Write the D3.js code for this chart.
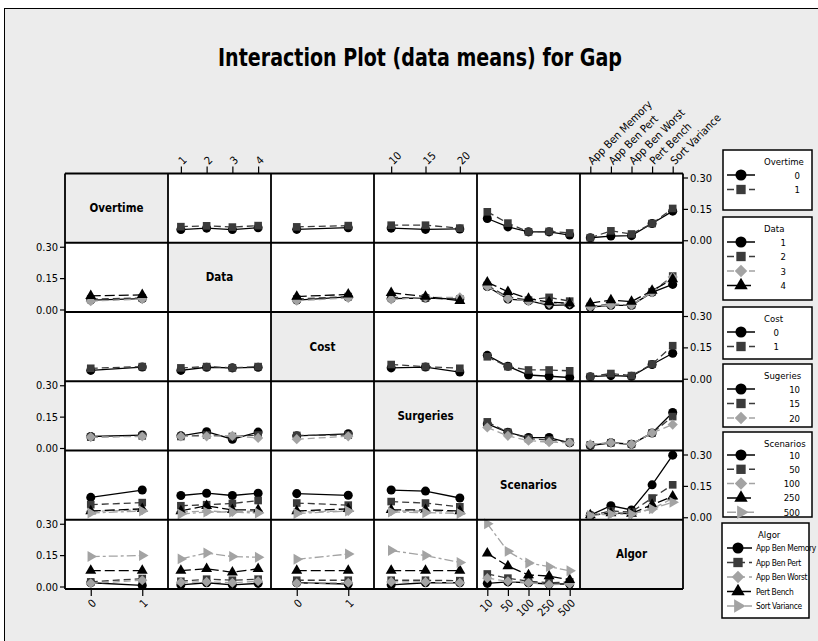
<!DOCTYPE html>
<html>
<head>
<meta charset="utf-8">
<script src="https://cdn.jsdelivr.net/npm/d3@7"></script>
<style>
  html, body { margin: 0; padding: 0; background: #ffffff; }
  svg { display: block; font-family: "DejaVu Sans Condensed", "DejaVu Sans", sans-serif; font-stretch: condensed; }
</style>
</head>
<body>
<svg id="chart" width="818" height="641"></svg>
<script>
// ---- factors and their levels ----
const factorNames = ["Overtime", "Data", "Cost", "Surgeries", "Scenarios", "Algor"];
const legendTitles = ["Overtime", "Data", "Cost", "Sugeries", "Scenarios", "Algor"];
const overtimeLevels = ["0", "1"];
const dataLevels = ["1", "2", "3", "4"];
const costLevels = ["0", "1"];
const surgeriesLevels = ["10", "15", "20"];
const scenariosLevels = ["10", "50", "100", "250", "500"];
const algorLevels = ["App Ben Memory", "App Ben Pert", "App Ben Worst", "Pert Bench", "Sort Variance"];
const yTicks = [0.00, 0.15, 0.30];

// ---- mean Gap for each pair: one row per level of the line factor ----
const overtimeByData = [[0.051, 0.058, 0.051, 0.060], [0.065, 0.069, 0.063, 0.070]];
const overtimeByCost = [[0.052, 0.060], [0.064, 0.070]];
const overtimeBySurgeries = [[0.058, 0.052, 0.054], [0.072, 0.072, 0.058]];
const overtimeByScenarios = [[0.104, 0.064, 0.040, 0.040, 0.025], [0.136, 0.082, 0.040, 0.042, 0.035]];
const overtimeByAlgor = [[0.012, 0.020, 0.022, 0.080, 0.139], [0.012, 0.045, 0.030, 0.080, 0.152]];

const dataByOvertime = [[0.045, 0.052], [0.050, 0.055], [0.040, 0.050], [0.065, 0.070]];
const dataByCost = [[0.045, 0.060], [0.050, 0.062], [0.042, 0.055], [0.062, 0.072]];
const dataBySurgeries = [[0.052, 0.055, 0.050], [0.058, 0.055, 0.050], [0.048, 0.058, 0.058], [0.080, 0.062, 0.042]];
const dataByScenarios = [[0.110, 0.050, 0.042, 0.020, 0.022], [0.115, 0.060, 0.045, 0.058, 0.040],
                         [0.110, 0.052, 0.040, 0.028, 0.030], [0.130, 0.085, 0.052, 0.035, 0.030]];
const dataByAlgor = [[0.012, 0.020, 0.020, 0.082, 0.120], [0.015, 0.025, 0.022, 0.085, 0.160],
                     [0.012, 0.022, 0.022, 0.082, 0.155], [0.030, 0.045, 0.038, 0.090, 0.145]];

const costByOvertime = [[0.040, 0.056], [0.050, 0.058]];
const costByData = [[0.040, 0.055, 0.052, 0.055], [0.052, 0.058, 0.052, 0.058]];
const costBySurgeries = [[0.052, 0.056, 0.032], [0.068, 0.058, 0.050]];
const costByScenarios = [[0.112, 0.060, 0.018, 0.012, 0.006], [0.105, 0.058, 0.042, 0.042, 0.038]];
const costByAlgor = [[0.010, 0.015, 0.012, 0.068, 0.122], [0.010, 0.025, 0.015, 0.070, 0.158]];

const surgeriesByOvertime = [[0.055, 0.062], [0.052, 0.058], [0.052, 0.055]];
const surgeriesByData = [[0.058, 0.078, 0.042, 0.076], [0.055, 0.062, 0.055, 0.062], [0.055, 0.056, 0.058, 0.048]];
const surgeriesByCost = [[0.058, 0.068], [0.060, 0.062], [0.042, 0.056]];
const surgeriesByScenarios = [[0.115, 0.075, 0.050, 0.050, 0.025], [0.125, 0.075, 0.045, 0.038, 0.028],
                              [0.098, 0.058, 0.035, 0.028, 0.025]];
const surgeriesByAlgor = [[0.012, 0.025, 0.018, 0.072, 0.170], [0.015, 0.025, 0.018, 0.072, 0.150],
                          [0.018, 0.025, 0.018, 0.072, 0.112]];

const scenariosByOvertime = [[0.095, 0.130], [0.060, 0.070], [0.028, 0.035], [0.030, 0.040], [0.020, 0.030]];
const scenariosByData = [[0.104, 0.115, 0.104, 0.115], [0.055, 0.060, 0.066, 0.080], [0.025, 0.030, 0.025, 0.030],
                         [0.030, 0.055, 0.035, 0.035], [0.015, 0.025, 0.025, 0.020]];
const scenariosByCost = [[0.113, 0.105], [0.068, 0.058], [0.025, 0.030], [0.030, 0.040], [0.018, 0.030]];
const scenariosBySurgeries = [[0.130, 0.125, 0.092], [0.075, 0.068, 0.050], [0.030, 0.030, 0.025],
                              [0.035, 0.035, 0.030], [0.025, 0.022, 0.018]];
const scenariosByAlgor = [[0.010, 0.055, 0.035, 0.155, 0.297], [0.008, 0.030, 0.025, 0.092, 0.155],
                          [0.010, 0.020, 0.015, 0.040, 0.090], [0.010, 0.020, 0.018, 0.060, 0.100],
                          [0.008, 0.015, 0.015, 0.040, 0.072]];

const algorByOvertime = [[0.018, 0.005], [0.022, 0.038], [0.015, 0.030], [0.076, 0.076], [0.143, 0.148]];
const algorByData = [[0.008, 0.018, 0.008, 0.015], [0.025, 0.035, 0.030, 0.035], [0.020, 0.022, 0.018, 0.025],
                     [0.076, 0.085, 0.068, 0.085], [0.132, 0.160, 0.143, 0.140]];
const algorByCost = [[0.018, 0.012], [0.030, 0.030], [0.015, 0.018], [0.076, 0.076], [0.130, 0.155]];
const algorBySurgeries = [[0.008, 0.018, 0.018], [0.030, 0.030, 0.028], [0.022, 0.022, 0.018],
                          [0.076, 0.076, 0.076], [0.172, 0.148, 0.115]];
const algorByScenarios = [[0.015, 0.022, 0.018, 0.012, 0.012], [0.060, 0.040, 0.025, 0.018, 0.022],
                          [0.040, 0.025, 0.018, 0.008, 0.012], [0.158, 0.098, 0.055, 0.050, 0.032],
                          [0.300, 0.168, 0.112, 0.095, 0.075]];

// ---- lookup tables built from the arrays above ----
const levels = [overtimeLevels, dataLevels, costLevels, surgeriesLevels, scenariosLevels, algorLevels];
const cellMeans = [
  [null, overtimeByData, overtimeByCost, overtimeBySurgeries, overtimeByScenarios, overtimeByAlgor],
  [dataByOvertime, null, dataByCost, dataBySurgeries, dataByScenarios, dataByAlgor],
  [costByOvertime, costByData, null, costBySurgeries, costByScenarios, costByAlgor],
  [surgeriesByOvertime, surgeriesByData, surgeriesByCost, null, surgeriesByScenarios, surgeriesByAlgor],
  [scenariosByOvertime, scenariosByData, scenariosByCost, scenariosBySurgeries, null, scenariosByAlgor],
  [algorByOvertime, algorByData, algorByCost, algorBySurgeries, algorByScenarios, null]
];

// ---- layout ----
const gridLeft = 65, gridTop = 173.5, cellW = 103, cellH = 69.25, n = 6;
const gridRight = gridLeft + n * cellW, gridBottom = gridTop + n * cellH;
const panelFill = "#ececec";
const tickFont = "\"DejaVu Sans Condensed\", \"DejaVu Sans\", sans-serif";

// symbol / line style for each level index
const darkGray = "#3b3b3b", lightGray = "#a3a3a3";
const seriesStyle = [
  { symbol: d3.symbolCircle,   size: 64, fill: "#000000", dash: null,       rot: 0 },
  { symbol: d3.symbolSquare,   size: 58, fill: darkGray,  dash: "7,4",      rot: 0 },
  { symbol: d3.symbolSquare,   size: 52, fill: lightGray, dash: "7,4",      rot: 45 },
  { symbol: d3.symbolTriangle, size: 52, fill: "#000000", dash: "10,4",     rot: 0 },
  { symbol: d3.symbolTriangle, size: 52, fill: lightGray, dash: "9,3,3,3",  rot: 90 }
];

// legend boxes: [left, top, right, bottom], label anchor x and anchor
const legendBoxes = [
  { box: [723, 150, 812, 210], labelX: 800, anchor: "end" },
  { box: [723, 217, 812, 300], labelX: 786, anchor: "end" },
  { box: [723, 307, 812, 359], labelX: 779, anchor: "end" },
  { box: [723, 364, 812, 427], labelX: 800, anchor: "end" },
  { box: [723, 432, 812, 517], labelX: 800, anchor: "end" },
  { box: [722, 523, 809, 618], labelX: 756, anchor: "start" }
];

const svg = d3.select("#chart");

// page background panel
svg.append("rect").attr("x", 4.5).attr("y", 8.5).attr("width", 900).attr("height", 900)
  .attr("fill", panelFill).attr("stroke", "#000").attr("stroke-width", 1);

// title
svg.append("text")
  .attr("x", 420).attr("y", 66)
  .attr("text-anchor", "middle")
  .attr("font-size", 25).attr("font-weight", "bold")
  .attr("textLength", 404).attr("lengthAdjust", "spacingAndGlyphs")
  .text("Interaction Plot (data means) for Gap");

const colX = c => gridLeft + c * cellW;
const rowY = r => gridTop + r * cellH;

function yScale(r) {
  return d3.scaleLinear().domain([0, 0.30]).range([rowY(r) + cellH - 2.5, rowY(r) + 4]);
}
function xScale(c) {
  return d3.scalePoint().domain(levels[c]).range([colX(c), colX(c) + cellW]).padding(0.5);
}

// cells
const cellsG = svg.append("g");
for (let r = 0; r < n; r++) {
  for (let c = 0; c < n; c++) {
    const x0 = colX(c), y0 = rowY(r);
    if (r === c) {
      cellsG.append("rect").attr("x", x0).attr("y", y0).attr("width", cellW).attr("height", cellH)
        .attr("fill", panelFill);
      cellsG.append("text")
        .attr("x", x0 + cellW / 2).attr("y", y0 + cellH / 2)
        .attr("text-anchor", "middle").attr("dominant-baseline", "central")
        .attr("font-size", 11.5).attr("font-weight", "bold")
        .text(factorNames[r]);
      continue;
    }
    cellsG.append("rect").attr("x", x0).attr("y", y0).attr("width", cellW).attr("height", cellH)
      .attr("fill", "#ffffff");
    const x = xScale(c), y = yScale(r);
    const means = cellMeans[r][c];
    const line = d3.line().x((d, i) => x(levels[c][i])).y(d => y(d));
    means.forEach((series, s) => {
      const st = seriesStyle[s];
      const g = cellsG.append("g");
      g.append("path").attr("d", line(series)).attr("fill", "none")
        .attr("stroke", st.fill).attr("stroke-width", 1.3)
        .attr("stroke-dasharray", st.dash);
      series.forEach((v, i) => {
        g.append("path")
          .attr("d", d3.symbol().type(st.symbol).size(st.size)())
          .attr("fill", st.fill)
          .attr("transform", `translate(${x(levels[c][i])},${y(v)})` + (st.rot ? ` rotate(${st.rot})` : ""));
      });
    });
  }
}

// grid lines
const gridG = svg.append("g").attr("stroke", "#000").attr("stroke-width", 1.8);
for (let k = 0; k <= n; k++) {
  gridG.append("line").attr("x1", colX(k)).attr("x2", colX(k)).attr("y1", gridTop).attr("y2", gridBottom);
  gridG.append("line").attr("y1", rowY(k)).attr("y2", rowY(k)).attr("x1", gridLeft).attr("x2", gridRight);
}

// y axes alternate right / left
const fmt = d3.format(".2f");
for (let r = 0; r < n; r++) {
  const right = r % 2 === 0;
  const ax = (right ? d3.axisRight(yScale(r)) : d3.axisLeft(yScale(r)))
    .tickValues(yTicks).tickFormat(fmt).tickSize(5).tickPadding(2);
  const g = svg.append("g").attr("transform", `translate(${right ? gridRight : gridLeft},0)`).call(ax);
  g.select(".domain").remove();
  g.selectAll(".tick line").attr("stroke-width", 1.2);
  g.selectAll(".tick text").attr("font-size", 11).attr("fill", "#000").attr("font-family", tickFont);
}

// x axes alternate bottom / top
for (let c = 0; c < n; c++) {
  const bottom = c % 2 === 0;
  const ax = (bottom ? d3.axisBottom(xScale(c)) : d3.axisTop(xScale(c))).tickSize(7).tickPadding(0);
  const g = svg.append("g").attr("transform", `translate(0,${bottom ? gridBottom : gridTop})`).call(ax);
  g.select(".domain").remove();
  g.selectAll(".tick line").attr("stroke-width", 1.2);
  const t = g.selectAll(".tick text").attr("font-size", 11).attr("fill", "#000")
    .attr("font-family", tickFont)
    .attr("x", 0).attr("y", 0).attr("dy", "0.35em");
  if (bottom) {
    t.attr("text-anchor", "end").attr("transform", "translate(3,12) rotate(-45)");
  } else {
    t.attr("text-anchor", "start").attr("transform", "translate(-1,-11) rotate(-45)");
  }
}

// legends
legendBoxes.forEach((lb, r) => {
  const [l, t, rr, b] = lb.box;
  const g = svg.append("g");
  g.append("rect").attr("x", l).attr("y", t).attr("width", rr - l).attr("height", b - t)
    .attr("fill", "#fff").attr("stroke", "#000").attr("stroke-width", 1.5);
  g.append("text").attr("x", r === 5 ? 758 : 764).attr("y", t + 11)
    .attr("dominant-baseline", "central").attr("font-size", 9.5).text(legendTitles[r]);
  const spacing = r === 4 ? 14.3 : 14.5;
  const first = r === 4 ? t + 23 : t + 25;
  const mx = r === 5 ? 738 : 741;
  const lx2 = r === 5 ? 752 : 755;
  levels[r].forEach((lev, s) => {
    const st = seriesStyle[s];
    const yy = first + s * spacing;
    g.append("line").attr("x1", 727).attr("x2", lx2).attr("y1", yy).attr("y2", yy)
      .attr("stroke", st.fill).attr("stroke-width", 1.5).attr("stroke-dasharray", st.dash);
    g.append("path")
      .attr("d", d3.symbol().type(st.symbol).size(st.size * 1.5)())
      .attr("fill", st.fill)
      .attr("transform", `translate(${mx},${yy})` + (st.rot ? ` rotate(${st.rot})` : ""));
    g.append("text").attr("x", lb.labelX).attr("y", yy)
      .attr("text-anchor", lb.anchor).attr("dominant-baseline", "central")
      .attr("font-size", r === 5 ? 8.4 : 9.5)
      .attr("letter-spacing", r === 5 ? -0.35 : null)
      .text(lev);
  });
});
</script>
</body>
</html>
